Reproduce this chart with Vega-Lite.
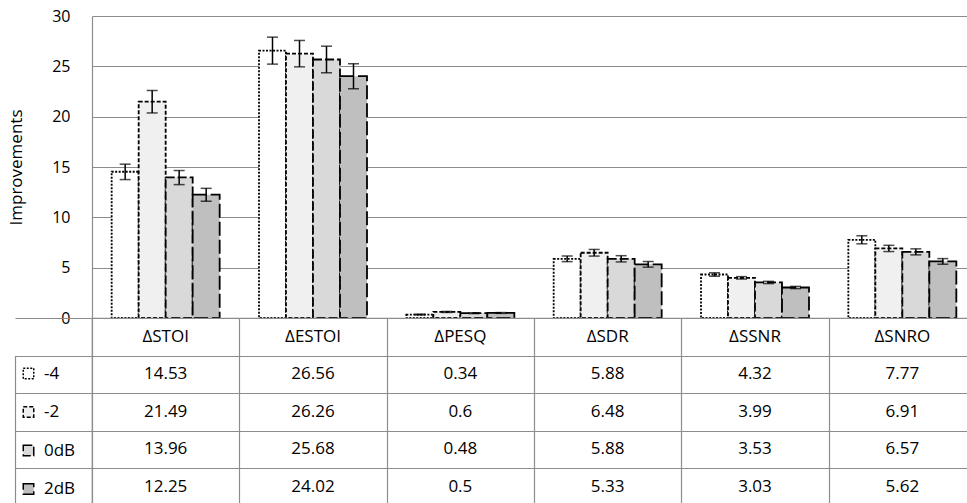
{
  "$schema": "https://vega.github.io/schema/vega-lite/v6.json",
  "padding": {"left": 7, "top": 8, "right": 0, "bottom": 0},
  "spacing": 0,
  "bounds": "flush",
  "config": {
    "font": "Open Sans",
    "view": {"stroke": null},
    "axis": {"labelColor": "#000", "titleColor": "#000", "labelFont": "Open Sans", "titleFont": "Open Sans"},
    "legend": {"labelFont": "Open Sans"}
  },
  "datasets": {
    "d": [
      {"metric": "ΔSTOI", "snr": "-4", "value": 14.53, "lo": 13.75, "hi": 15.28},
      {"metric": "ΔSTOI", "snr": "-2", "value": 21.49, "lo": 20.37, "hi": 22.6},
      {"metric": "ΔSTOI", "snr": "0dB", "value": 13.96, "lo": 13.25, "hi": 14.65},
      {"metric": "ΔSTOI", "snr": "2dB", "value": 12.25, "lo": 11.6, "hi": 12.88},
      {"metric": "ΔESTOI", "snr": "-4", "value": 26.56, "lo": 25.22, "hi": 27.9},
      {"metric": "ΔESTOI", "snr": "-2", "value": 26.26, "lo": 24.95, "hi": 27.57},
      {"metric": "ΔESTOI", "snr": "0dB", "value": 25.68, "lo": 24.36, "hi": 27.0},
      {"metric": "ΔESTOI", "snr": "2dB", "value": 24.02, "lo": 22.78, "hi": 25.26},
      {"metric": "ΔPESQ", "snr": "-4", "value": 0.34, "lo": 0.3, "hi": 0.38},
      {"metric": "ΔPESQ", "snr": "-2", "value": 0.6, "lo": 0.55, "hi": 0.65},
      {"metric": "ΔPESQ", "snr": "0dB", "value": 0.48, "lo": 0.44, "hi": 0.52},
      {"metric": "ΔPESQ", "snr": "2dB", "value": 0.5, "lo": 0.46, "hi": 0.54},
      {"metric": "ΔSDR", "snr": "-4", "value": 5.88, "lo": 5.6, "hi": 6.16},
      {"metric": "ΔSDR", "snr": "-2", "value": 6.48, "lo": 6.15, "hi": 6.81},
      {"metric": "ΔSDR", "snr": "0dB", "value": 5.88, "lo": 5.57, "hi": 6.19},
      {"metric": "ΔSDR", "snr": "2dB", "value": 5.33, "lo": 5.05, "hi": 5.61},
      {"metric": "ΔSSNR", "snr": "-4", "value": 4.32, "lo": 4.15, "hi": 4.49},
      {"metric": "ΔSSNR", "snr": "-2", "value": 3.99, "lo": 3.87, "hi": 4.11},
      {"metric": "ΔSSNR", "snr": "0dB", "value": 3.53, "lo": 3.42, "hi": 3.64},
      {"metric": "ΔSSNR", "snr": "2dB", "value": 3.03, "lo": 2.92, "hi": 3.14},
      {"metric": "ΔSNRO", "snr": "-4", "value": 7.77, "lo": 7.37, "hi": 8.17},
      {"metric": "ΔSNRO", "snr": "-2", "value": 6.91, "lo": 6.6, "hi": 7.22},
      {"metric": "ΔSNRO", "snr": "0dB", "value": 6.57, "lo": 6.27, "hi": 6.87},
      {"metric": "ΔSNRO", "snr": "2dB", "value": 5.62, "lo": 5.34, "hi": 5.9}
    ]
  },
  "vconcat": [
    {
      "width": 884,
      "height": 302,
      "data": {"name": "d"},
      "encoding": {
        "x": {"field": "metric", "type": "nominal", "sort": null,
              "scale": {"paddingInner": 0.267, "paddingOuter": 0.1335},
              "axis": null},
        "xOffset": {"field": "snr", "type": "nominal", "sort": null,
                    "scale": {"domain": ["-4", "-2", "0dB", "2dB"], "paddingInner": 0, "paddingOuter": 0}}
      },
      "layer": [
        {
          "mark": {"type": "bar", "stroke": "#000", "strokeWidth": 1.8},
          "encoding": {
            "y": {"field": "value", "type": "quantitative",
                  "scale": {"domain": [0, 30], "nice": false},
                  "axis": {"values": [0, 5, 10, 15, 20, 25, 30], "title": "Improvements",
                           "grid": true, "gridColor": "#8c8c8c", "gridWidth": 1.2,
                           "domain": true, "domainColor": "#8c8c8c", "domainWidth": 1.2,
                           "ticks": false, "labelPadding": 22, "labelFontSize": 16,
                           "titleFontSize": 17, "titleFontWeight": "normal", "titlePadding": 26}},
            "fill": {"field": "snr", "type": "nominal", "sort": null,
                     "scale": {"domain": ["-4", "-2", "0dB", "2dB"], "range": ["#ffffff", "#f0f0f0", "#d9d9d9", "#bfbfbf"]},
                     "legend": {"title": null, "orient": "none", "legendX": -72, "legendY": 349,
                                "symbolType": "square", "symbolSize": 110, "symbolStrokeColor": "#000",
                                "symbolStrokeWidth": 1.5, "labelFontSize": 17, "rowPadding": 20.5,
                                "labelOffset": 7,
                                "encode": {"symbols": {"update": {"stroke": {"value": "#000"}, "strokeWidth": {"value": 1.5},
                                                                   "strokeDash": {"scale": "strokeDash", "field": "value"}}}}}},
            "strokeDash": {"field": "snr", "type": "nominal", "sort": null,
                           "scale": {"domain": ["-4", "-2", "0dB", "2dB"], "range": [[2, 1.5], [4, 2], [9, 3], [14, 4]]},
                           "legend": {"title": null, "orient": "none", "legendX": -72, "legendY": 349,
                                "symbolType": "square", "symbolSize": 110, "symbolStrokeColor": "#000",
                                "symbolStrokeWidth": 1.5, "labelFontSize": 17, "rowPadding": 20.5,
                                "labelOffset": 7}}
          }
        },
        {
          "mark": {"type": "rule", "color": "#000", "strokeWidth": 1.5},
          "encoding": {"y": {"field": "lo", "type": "quantitative"}, "y2": {"field": "hi"}}
        },
        {
          "mark": {"type": "tick", "color": "#000", "thickness": 1.5, "size": 11},
          "encoding": {"y": {"field": "lo", "type": "quantitative"}}
        },
        {
          "mark": {"type": "tick", "color": "#000", "thickness": 1.5, "size": 11},
          "encoding": {"y": {"field": "hi", "type": "quantitative"}}
        }
      ]
    },
    {
      "width": 884,
      "height": 187.5,
      "view": {"stroke": "#8c8c8c", "strokeWidth": 1.2},
      "data": {"name": "d"},
      "encoding": {
        "x": {"field": "metric", "type": "nominal", "sort": null,
              "scale": {"paddingInner": 0, "paddingOuter": 0},
              "axis": {"grid": true, "tickBand": "extent", "labels": false, "ticks": false,
                       "domain": false, "title": null, "gridColor": "#8c8c8c", "gridWidth": 1.2}},
        "y": {"field": "snr", "type": "nominal",
              "scale": {"domain": ["hdr", "-4", "-2", "0dB", "2dB"], "paddingInner": 0, "paddingOuter": 0},
              "axis": {"grid": true, "tickBand": "extent",
                       "labels": false, "ticks": true, "tickSize": -77, "offset": 77,
                       "tickColor": "#8c8c8c", "tickWidth": 1.2, "gridColor": "#8c8c8c", "gridWidth": 1.2,
                       "domain": true, "domainColor": "#8c8c8c", "domainWidth": 1.2,
                       "domainDash": [0, 37.5, 300], "title": null,
                       "encode": {"ticks": {"update": {"strokeOpacity": {"signal": "datum.value === 'hdr' ? 0 : 1"}}}}}}
      },
      "layer": [
        {
          "mark": {"type": "text", "fontSize": 17, "color": "#000"},
          "encoding": {
            "text": {"field": "value", "type": "quantitative"}
          }
        },
        {
          "transform": [{"filter": "datum.snr === '-4'"}],
          "mark": {"type": "text", "fontSize": 17, "color": "#000"},
          "encoding": {
            "y": {"datum": "hdr"},
            "text": {"field": "metric", "type": "nominal"}
          }
        }
      ]
    }
  ]
}
